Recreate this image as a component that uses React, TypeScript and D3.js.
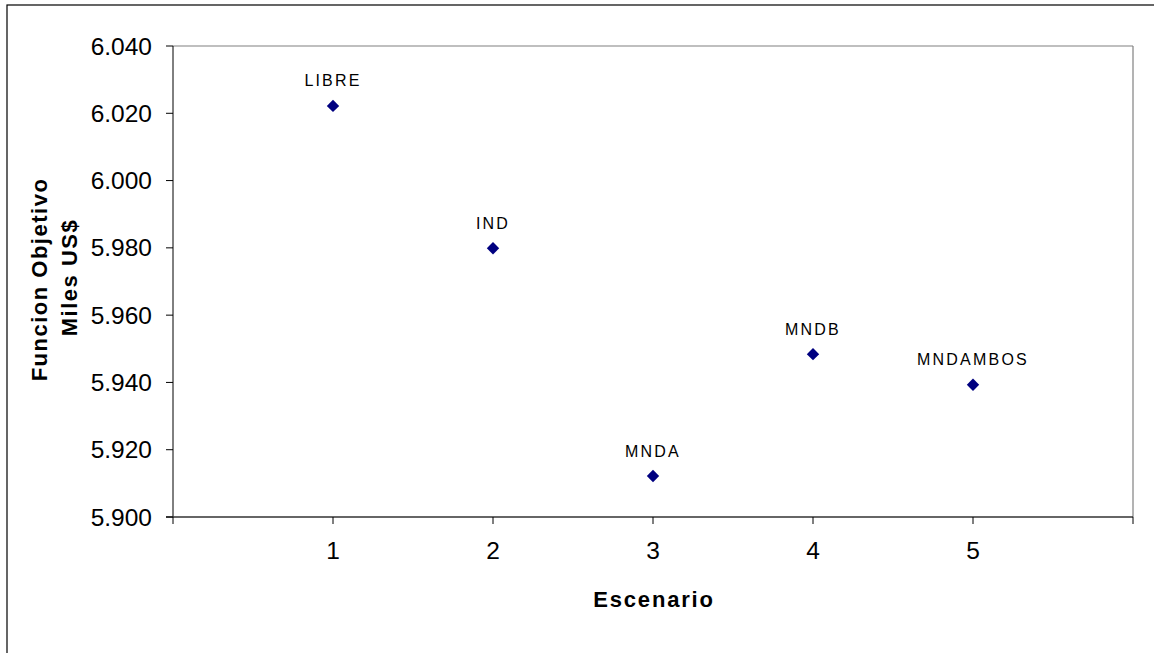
import React from "react";
import * as d3 from "d3";

const scenarios = [1, 2, 3, 4, 5];
const labels = ["LIBRE", "IND", "MNDA", "MNDB", "MNDAMBOS"];
const values = [6.0222, 5.9799, 5.9122, 5.9484, 5.9393];
const yTicks = [5.9, 5.92, 5.94, 5.96, 5.98, 6.0, 6.02, 6.04];
const xTicks = [0, 1, 2, 3, 4, 5, 6];

export default function App() {
  const W = 1154, H = 653;
  const left = 173, right = 1133, top = 46, bottom = 517;
  const x = d3.scaleLinear().domain([0, 6]).range([left, right]);
  const y = d3.scaleLinear().domain([5.9, 6.04]).range([bottom, top]);
  const fmt = d3.format(".3f");
  const font = "Arial, 'Liberation Sans', sans-serif";
  const diamond = d3.symbol().type(d3.symbolDiamond2).size(98)();
  const midY = (top + bottom) / 2;
  return (
    <svg width={W} height={H} style={{ position: "absolute", left: 0, top: 0 }} fontFamily={font}>
      <rect x={0} y={0} width={W} height={H} fill="#fff" />
      <rect x={7} y={5} width={W + 20} height={H + 20} fill="#fff" stroke="#000" strokeWidth={1.2} />
      <line x1={left} x2={right} y1={top} y2={top} stroke="#808080" strokeWidth={1.2} />
      <line x1={right} x2={right} y1={top} y2={bottom} stroke="#808080" strokeWidth={1.2} />
      <line x1={left} x2={left} y1={top} y2={bottom} stroke="#000" strokeWidth={1} />
      <line x1={left - 7} x2={right} y1={bottom} y2={bottom} stroke="#333" strokeWidth={1.5} />
      {yTicks.map((t) => (
        <g key={t}>
          <line x1={left - 7} x2={left} y1={y(t)} y2={y(t)} stroke="#000" />
          <text x={152} y={y(t)} dy="0.35em" textAnchor="end" fontSize={24.5}>{fmt(t)}</text>
        </g>
      ))}
      {xTicks.map((t) => (
        <line key={t} x1={x(t)} x2={x(t)} y1={bottom} y2={bottom + 7} stroke="#000" />
      ))}
      {scenarios.map((s) => (
        <text key={s} x={x(s)} y={550} dy="0.35em" textAnchor="middle" fontSize={24.5}>{s}</text>
      ))}
      {scenarios.map((s, i) => (
        <g key={"p" + s}>
          <path d={diamond as string} transform={`translate(${x(s)},${y(values[i])})`} fill="#000080" />
          <text x={x(s)} y={y(values[i]) - 25} dy="0.35em" textAnchor="middle" fontSize={16} letterSpacing={2.2}>{labels[i]}</text>
        </g>
      ))}
      <text x={654} y={607} textAnchor="middle" fontSize={22} fontWeight="bold" letterSpacing={1.8}>Escenario</text>
      <text transform={`translate(47,${midY - 2}) rotate(-90)`} textAnchor="middle" fontSize={22} fontWeight="bold" letterSpacing={1.5}>Funcion Objetivo</text>
      <text transform={`translate(77,${midY - 4}) rotate(-90)`} textAnchor="middle" fontSize={22} fontWeight="bold" letterSpacing={1.5}>Miles US$</text>
    </svg>
  );
}
